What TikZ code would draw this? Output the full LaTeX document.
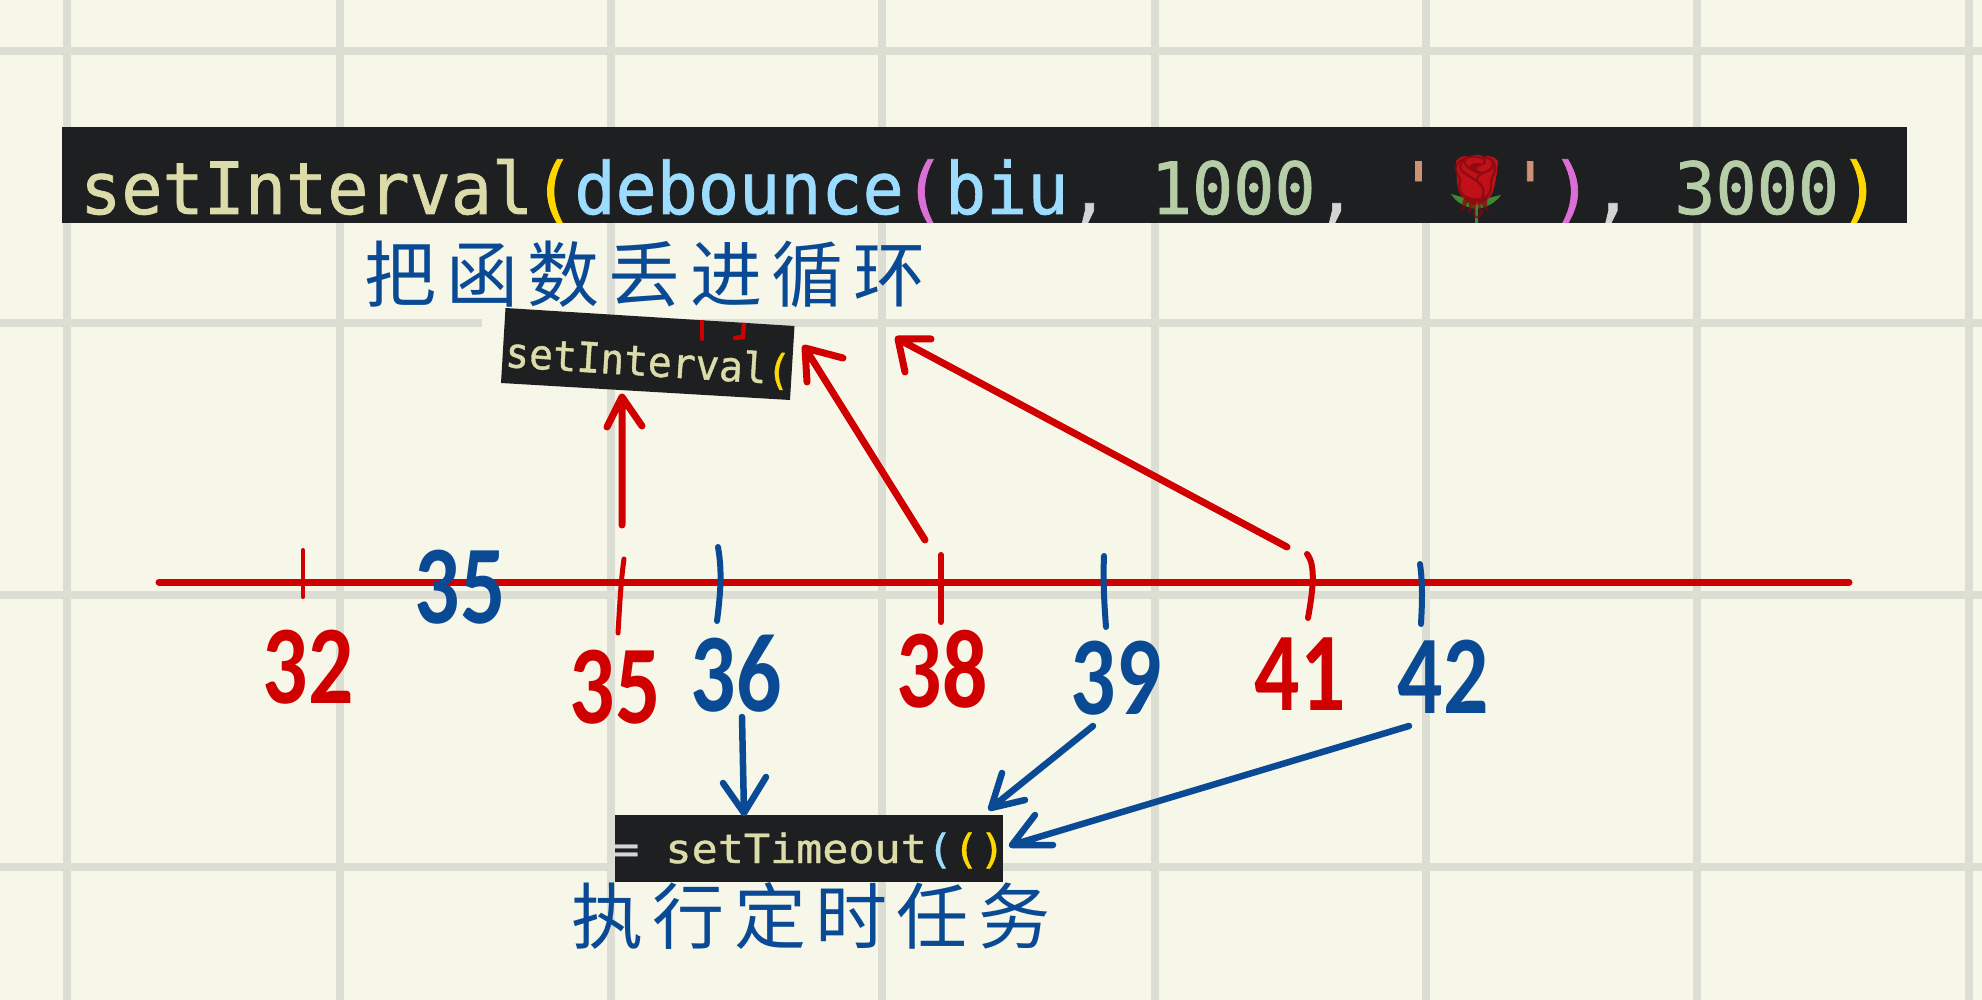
\documentclass[tikz,border=0pt]{standalone}
\usepackage{fontspec}
\newfontfamily\codefont[FakeStretch=0.95,FakeBold=1]{DejaVu Sans Mono}
\newfontfamily\timefont[FakeStretch=1.08,FakeBold=1]{DejaVu Sans Mono}
\newfontfamily\digitfont[FakeStretch=0.8]{Carlito Bold}
\newfontfamily\cjkhand[LetterSpace=13]{Noto Sans CJK SC}
\newfontfamily\emojifont{Noto Emoji}
\definecolor{paper}{HTML}{F6F6E9}
\definecolor{gridc}{HTML}{DDDED3}
\definecolor{barc}{HTML}{1E1F21}
\definecolor{inkred}{HTML}{D10000}
\definecolor{inkblue}{HTML}{0A4A94}
\definecolor{cfn}{HTML}{DCDCAA}
\definecolor{cgold}{HTML}{FFD700}
\definecolor{cvar}{HTML}{9CDCFE}
\definecolor{cmag}{HTML}{DA70D6}
\definecolor{cnum}{HTML}{B5CEA8}
\definecolor{cstr}{HTML}{CE9178}
\definecolor{cpun}{HTML}{D4D4D4}
\definecolor{rosered}{HTML}{C01018}
\definecolor{rosedark}{HTML}{7E0A10}
\definecolor{rosegreen}{HTML}{3F8A2E}
\tikzset{
  gridline/.style={gridc,line width=8pt},
  codebar/.style={fill=barc,draw=none},
  codetext/.style={anchor=base west,inner sep=0pt,font=\codefont\fontsize{72}{72}\selectfont},
  redline/.style={inkred,line width=7pt,line cap=round,line join=round},
  blueline/.style={inkblue,line width=6.5pt,line cap=round,line join=round},
  rednum/.style={inner sep=0pt,inkred,font=\digitfont\fontsize{112}{112}\selectfont},
  bluenum/.style={inner sep=0pt,inkblue,font=\digitfont\fontsize{112}{112}\selectfont},
  handcn/.style={inner sep=0pt,inkblue,font=\cjkhand\fontsize{72}{72}\selectfont},
}
\begin{document}
\begin{tikzpicture}[x=1pt,y=-1pt]
\useasboundingbox (0,0) rectangle (1982,1000);
\fill[paper] (0,0) rectangle (1982,1000);
% grid
\foreach \gx in {67,340,611,882,1155,1426,1697,1969}
  \draw[gridline] (\gx,0) -- (\gx,1000);
\foreach \gy in {51,323,595,867}
  \draw[gridline] (0,\gy) -- (1982,\gy);
\fill[paper] (482,310) rectangle (510,336);
% top code bar
\fill[codebar] (62,127) rectangle (1907,223);
\begin{scope}
\clip (62,127) rectangle (1907,223);
\node[codetext] (codeA) at (80,214) {\textcolor{cfn}{setInterval}\textcolor{cgold}{(}\textcolor{cvar}{debounce}\textcolor{cmag}{(}\textcolor{cvar}{biu}\textcolor{cpun}{,} \textcolor{cnum}{1000}\textcolor{cpun}{,} \textcolor{cstr}{'}};
\node[codetext] (codeB) at (1509.4,214) {\textcolor{cstr}{'}\textcolor{cmag}{)}\textcolor{cpun}{,} \textcolor{cnum}{3000}\textcolor{cgold}{)}};
% rose
\draw[rosegreen,line width=3pt] (1476,195) -- (1476,223);
\fill[rosegreen] (1476,209) .. controls (1464,207) and (1456,202) .. (1451,194) .. controls (1462,197) and (1472,200) .. (1476,205) .. controls (1482,200) and (1491,197) .. (1501,195) .. controls (1495,203) and (1488,207) .. (1476,209) -- cycle;
\fill[rosered] (1456,161) .. controls (1460,156) and (1466,155) .. (1470,157) .. controls (1474,154) and (1480,154) .. (1484,157) .. controls (1488,155) and (1494,156) .. (1498,161) .. controls (1497,172) and (1496,180) .. (1494,188) .. controls (1492,198) and (1485,203) .. (1476,205) .. controls (1467,203) and (1460,198) .. (1458,188) .. controls (1456,180) and (1457,172) .. (1456,161) -- cycle;
\node[inner sep=0pt,rosedark,opacity=0.75,font=\emojifont\fontsize{62}{62}\selectfont] (rose) at (1476,187) {🌹};
\end{scope}
% setInterval tag
\coordinate (tagTL) at (505.5,308);
\coordinate (tagTR) at (794.5,326);
\coordinate (tagBR) at (790,400);
\coordinate (tagBL) at (501,383);
\fill[codebar] (tagTL) -- (tagTR) -- (tagBR) -- (tagBL) -- cycle;
\begin{scope}
\clip (tagTL) -- (tagTR) -- (tagBR) -- (tagBL) -- cycle;
\draw[inkred,line width=4.5pt,line cap=round] (702,318) -- (702,339);
\draw[inkred,line width=4.5pt,line cap=round] (744,322) -- (743,337) -- (735,338);
\node[anchor=base west,inner sep=0pt,rotate=-3.6,font=\codefont\fontsize{41.6}{41.6}\selectfont] (tagtext) at (504.5,367) {\textcolor{cfn}{setInterval}\textcolor{cgold}{(}};
\end{scope}
% setTimeout tag
\fill[codebar] (615,815) rectangle (1003,882);
\begin{scope}
\clip (615,815) rectangle (1003,882);
\node[anchor=base west,inner sep=0pt,font=\timefont\fontsize{40.2}{40.2}\selectfont] (timeouttext) at (613,863) {\textcolor{cpun}{=} \textcolor{cfn}{setTimeout}\textcolor{cvar}{(}\textcolor{cgold}{()}};
\end{scope}
% chinese captions
\node[handcn] (capA) at (645,274) {把函数丢进循环};
\node[handcn] (capB) at (811,916) {执行定时任务};
% axis
\coordinate (axL) at (159,582);
\coordinate (axR) at (1849,582);
\draw[inkred,line width=7pt,line cap=round] (axL) -- (axR);
% ticks
\draw[redline,line width=4pt] (303,550) -- (303,597);
\draw[redline,line width=5pt] (624,559) .. controls (621,580) and (620,600) .. (618,633);
\draw[blueline,line width=6pt] (718,547) .. controls (722,570) and (721,590) .. (717,621);
\draw[redline,line width=6pt] (941,555) -- (941,622);
\draw[blueline,line width=6pt] (1104,556) .. controls (1103,580) and (1104,600) .. (1106,627);
\draw[redline,line width=6pt] (1307,554) .. controls (1316,565) and (1313,590) .. (1308,618);
\draw[blueline,line width=6pt] (1420,564) .. controls (1423,585) and (1422,605) .. (1421,624);
% numbers
\node[rednum]  (n32)  at (308,667) {32};
\node[bluenum] (n35b) at (460,587) {35};
\node[rednum]  (n35)  at (615,687) {35};
\node[bluenum] (n36)  at (736,674) {36};
\node[rednum]  (n38)  at (942,669) {38};
\node[bluenum] (n39)  at (1116,678) {39};
\node[rednum]  (n41)  at (1300,674) {41};
\node[bluenum] (n42)  at (1443,677) {42};
% red arrows
\coordinate (r1s) at (622,525); \coordinate (r1t) at (622,397);
\coordinate (r2s) at (925,540); \coordinate (r2t) at (805,348);
\coordinate (r3s) at (1287,547); \coordinate (r3t) at (898,339);
\draw[redline] (r1s) -- (r1t) (607,427) -- (r1t) -- (642,426);
\draw[redline] (r2s) -- (r2t) (807,382) -- (r2t) -- (843,358);
\draw[redline] (r3s) -- (r3t) (905,372) -- (r3t) -- (931,339);
% blue arrows
\coordinate (b1s) at (742,717); \coordinate (b1t) at (744,813);
\coordinate (b2s) at (1093,726); \coordinate (b2t) at (991,808);
\coordinate (b3s) at (1409,726); \coordinate (b3t) at (1012,845);
\draw[blueline] (b1s) -- (b1t) (723,783) -- (b1t) -- (766,777);
\draw[blueline] (b2s) -- (b2t) (1002,773) -- (b2t) -- (1025,800);
\draw[blueline] (b3s) -- (b3t) (1035,815) -- (b3t) -- (1053,845);
\end{tikzpicture}
\end{document}
